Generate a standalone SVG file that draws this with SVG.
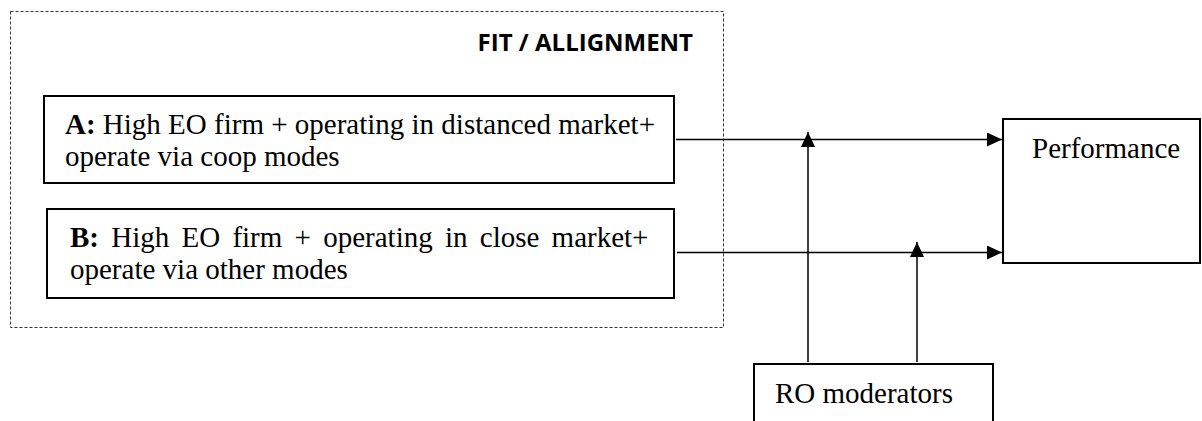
<svg xmlns="http://www.w3.org/2000/svg" width="1202" height="421" viewBox="0 0 1202 421">
<defs>
<style>
.box{fill:#fff;stroke:#000;stroke-width:2}
.t{font-family:"Liberation Serif","Times New Roman",serif;font-size:29px;fill:#000}
.b{font-weight:bold}
.ln{stroke:#000;stroke-width:1.5;fill:none}
</style>
<marker id="ah" markerWidth="15" markerHeight="15" refX="15" refY="7" orient="auto" markerUnits="userSpaceOnUse">
<path d="M0,0 L15,7 L0,14 Z" fill="#000"/>
</marker>
</defs>
<rect width="1202" height="421" fill="#fff"/>
<g id="fit">
<rect x="10.5" y="11.5" width="713" height="316" fill="none" stroke="#333" stroke-width="1" stroke-dasharray="3,2"/>
<text x="693" y="51" text-anchor="end" font-family="'Open Sans','Liberation Sans',sans-serif" font-weight="bold" font-size="24">FIT / ALLIGNMENT</text>
</g>
<g id="nodeA">
<rect class="box" x="44" y="96" width="630" height="87"/>
<text class="t" x="65" y="134"><tspan class="b">A:</tspan> High EO firm + operating in distanced market+</text>
<text class="t" x="65" y="166">operate via coop modes</text>
</g>
<g id="nodeB">
<rect class="box" x="47" y="209" width="627" height="89"/>
<text class="t" x="70" y="247" word-spacing="5"><tspan class="b">B:</tspan> High EO firm + operating in close market+</text>
<text class="t" x="70" y="279">operate via other modes</text>
</g>
<g id="performance">
<rect class="box" x="1003" y="119" width="197" height="144"/>
<text class="t" x="1032" y="158">Performance</text>
</g>
<g id="ro">
<rect class="box" x="754" y="364" width="239" height="70"/>
<text class="t" x="775" y="403">RO moderators</text>
</g>
<g id="connectors">
<line class="ln" x1="676" y1="139.5" x2="1002" y2="139.5" marker-end="url(#ah)"/>
<line class="ln" x1="677" y1="252.5" x2="1002" y2="252.5" marker-end="url(#ah)"/>
<line class="ln" x1="808" y1="362" x2="808" y2="132" marker-end="url(#ah)"/>
<line class="ln" x1="917" y1="362" x2="917" y2="242" marker-end="url(#ah)"/>
</g>
</svg>
